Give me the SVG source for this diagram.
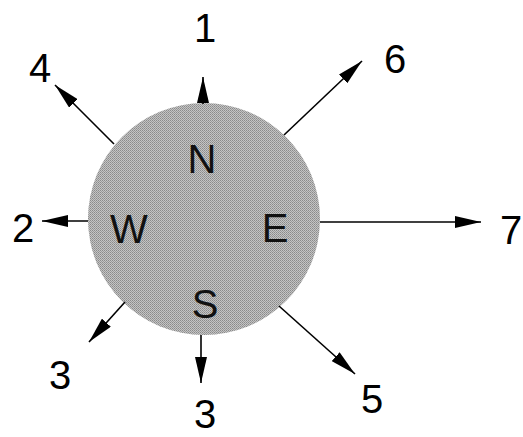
<svg xmlns="http://www.w3.org/2000/svg" width="523" height="437" viewBox="0 0 523 437">
  <style>
    .lbl { font-family: "Liberation Sans", Arial, sans-serif; font-size: 40px; fill: #000; text-anchor: middle; }
    .dir { font-family: "Liberation Sans", Arial, sans-serif; font-size: 40px; fill: #111; text-anchor: middle; }
    .conn { stroke: #000; stroke-width: 1.6; fill: none; marker-end: url(#arrow); }
  </style>
  <defs>
    <marker id="arrow" viewBox="0 0 26 12" refX="26" refY="6" markerWidth="26" markerHeight="12" markerUnits="userSpaceOnUse" orient="auto">
      <path d="M0,0 L26,6 L0,12 Z" fill="#000"/>
    </marker>
    <pattern id="dither" width="2" height="2" patternUnits="userSpaceOnUse">
      <rect width="2" height="2" fill="#c4c4c4"/>
      <rect width="1" height="1" fill="#8a8a8a"/>
      <rect x="1" y="1" width="1" height="1" fill="#9a9a9a"/>
    </pattern>
  </defs>
  <rect width="523" height="437" fill="#fff"/>

  <g id="compass">
    <circle cx="204" cy="219" r="116" fill="url(#dither)"/>
    <text class="dir" x="202" y="173">N</text>
    <text class="dir" x="129" y="243">W</text>
    <text class="dir" x="275" y="242">E</text>
    <text class="dir" x="205" y="318">S</text>
  </g>

  <g id="connectors">
    <line class="conn" x1="203" y1="104" x2="203" y2="77"/>
    <line class="conn" x1="114" y1="144" x2="55" y2="85"/>
    <line class="conn" x1="284" y1="135" x2="362" y2="61"/>
    <line class="conn" x1="88" y1="221" x2="42" y2="221"/>
    <line class="conn" x1="320" y1="222" x2="481" y2="222"/>
    <line class="conn" x1="125" y1="302" x2="89" y2="342"/>
    <line class="conn" x1="201" y1="335" x2="201" y2="383"/>
    <line class="conn" x1="279" y1="306" x2="355" y2="374"/>
  </g>

  <g id="label-1"><text class="lbl" x="205" y="42">1</text></g>
  <g id="label-4"><text class="lbl" x="40" y="82">4</text></g>
  <g id="label-6"><text class="lbl" x="395" y="73">6</text></g>
  <g id="label-2"><text class="lbl" x="23" y="242">2</text></g>
  <g id="label-7"><text class="lbl" x="511" y="244">7</text></g>
  <g id="label-3a"><text class="lbl" x="60" y="389">3</text></g>
  <g id="label-3b"><text class="lbl" x="205" y="428">3</text></g>
  <g id="label-5"><text class="lbl" x="372" y="413">5</text></g>
</svg>
